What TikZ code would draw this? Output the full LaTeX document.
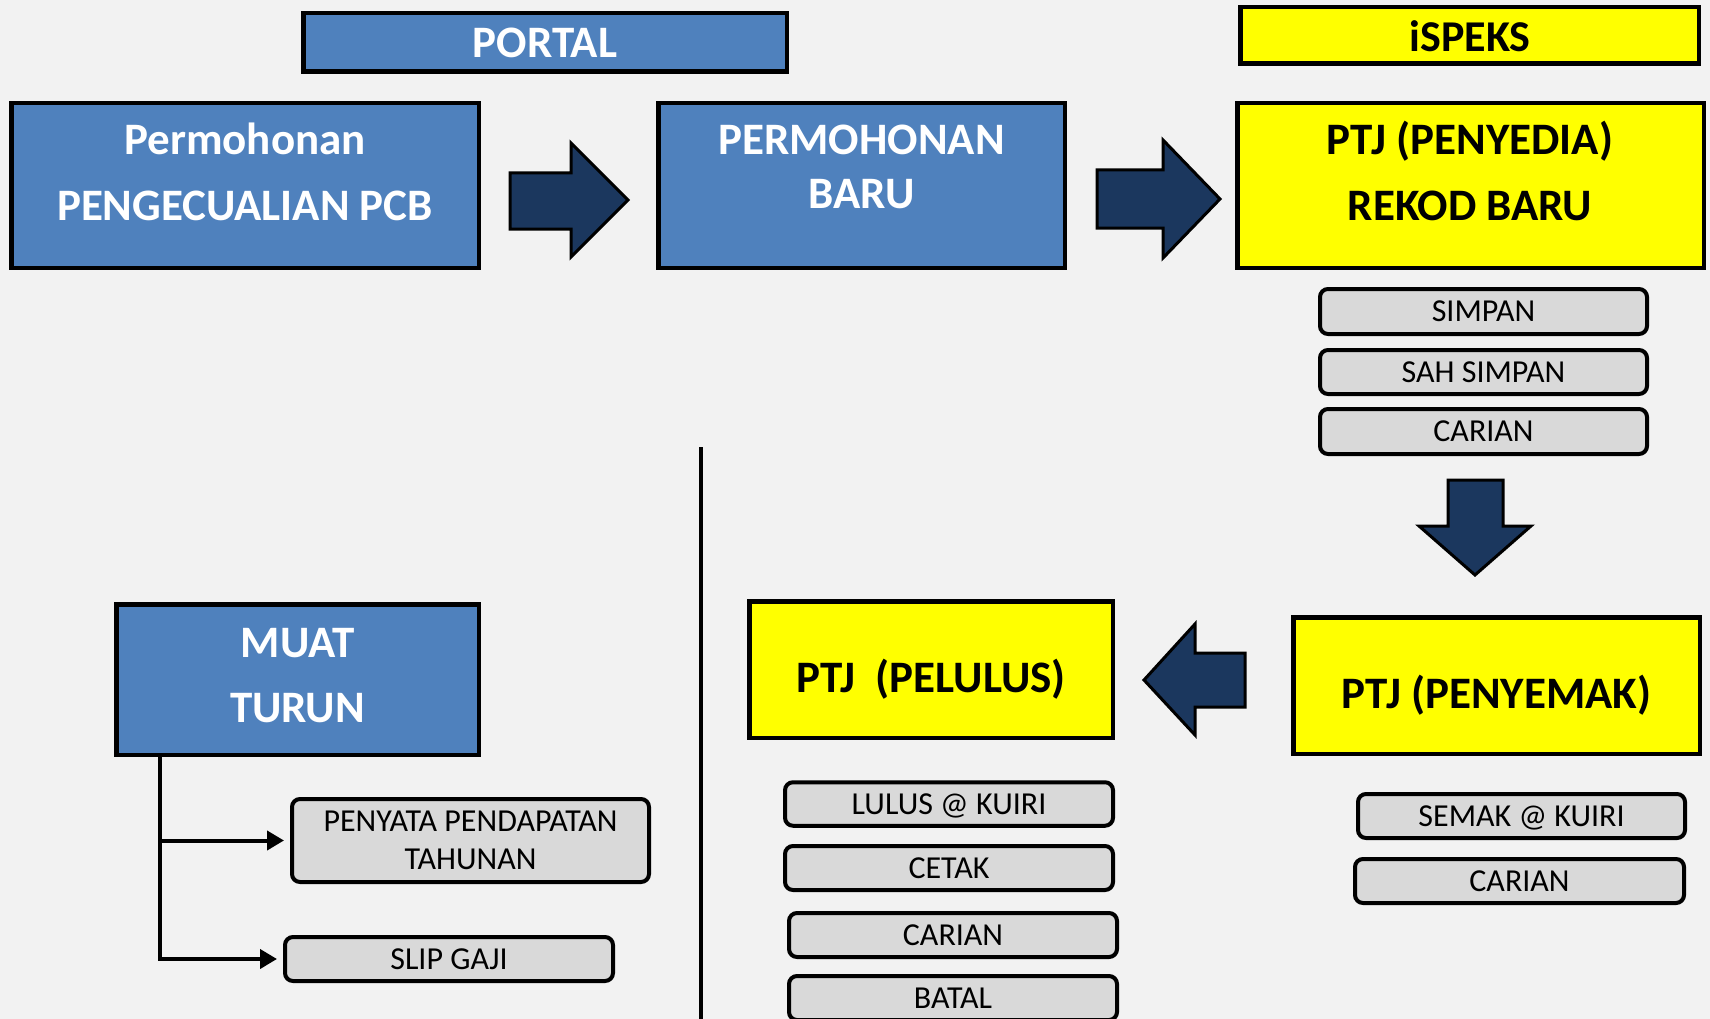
\documentclass[tikz,border=0pt]{standalone}
\usepackage{fontspec}
\setmainfont{Carlito}
\usetikzlibrary{arrows.meta}
\definecolor{bgc}{HTML}{F2F2F2}
\definecolor{pblue}{HTML}{4F81BD}
\definecolor{pyellow}{HTML}{FFFF00}
\definecolor{pgray}{HTML}{D9D9D9}
\definecolor{navy}{HTML}{1B375E}
\begin{document}
\begin{tikzpicture}[x=1pt,y=-1pt,
  bluebox/.style={draw=black, line width=4.5pt, fill=pblue, inner sep=0pt},
  yelbox/.style={draw=black, line width=4.5pt, fill=pyellow, inner sep=0pt},
  btnbox/.style={draw=black, line width=4pt, fill=pgray, rounded corners=8pt, inner sep=0pt,
    font=\fontsize{32}{37.5}\selectfont, text height=20pt, text depth=0pt},
  btnbox2/.style={draw=black, line width=4pt, fill=pgray, rounded corners=8pt, inner sep=0pt,
    font=\fontsize{32}{37.5}\selectfont, align=center},
  wt/.style={text=white, font=\bfseries\fontsize{45}{54}\selectfont, anchor=base, inner sep=0pt},
  bt/.style={text=black, font=\bfseries\fontsize{45}{54}\selectfont, anchor=base, inner sep=0pt},
  blockarrow/.style={fill=navy, draw=black, line width=3pt, line join=miter},
  conn/.style={draw=black, line width=4pt, -{Triangle[length=17pt,width=19pt]}},
]
\fill[bgc] (0,0) rectangle (1710,1019);
\useasboundingbox (0,0) rectangle (1710,1019);
\clip (0,0) rectangle (1710,1019);

% header boxes
\node[bluebox, minimum width=483.5pt, minimum height=58.5pt] (portal) at (545,42.5) {};
\node[wt] (portalT) at (545,57.5) {PORTAL};
\node[yelbox, minimum width=458.5pt, minimum height=56.5pt] (ispeks) at (1469.5,35.5) {};
\node[bt, font=\bfseries\fontsize{44}{52}\selectfont] (ispeksT) at (1470,52) {iSPEKS};

% top row
\node[bluebox, minimum width=467.5pt, minimum height=164.5pt] (perm) at (245,185.5) {};
\node[wt] (permT1) at (245,155) {Permohonan};
\node[wt] (permT2) at (245,220) {PENGECUALIAN PCB};

\node[bluebox, minimum width=406.5pt, minimum height=164.5pt] (baru) at (861.5,185.5) {};
\node[wt] (baruT1) at (861.5,154.5) {PERMOHONAN};
\node[wt] (baruT2) at (861.5,208) {BARU};

\node[yelbox, minimum width=466.5pt, minimum height=164.5pt] (penyedia) at (1470.5,185.5) {};
\node[bt] (penyediaT1) at (1470,155) {PTJ (PENYEDIA)};
\node[bt] (penyediaT2) at (1470,220) {REKOD BARU};

% block arrows
\draw[blockarrow] (510,173) -- (571,173) -- (571,143) -- (628,200) -- (571,257) -- (571,229) -- (510,229) -- cycle;
\draw[blockarrow] (1097,170) -- (1163,170) -- (1163,140) -- (1220,199) -- (1163,258) -- (1163,228) -- (1097,228) -- cycle;
\draw[blockarrow] (1448,480) -- (1503,480) -- (1503,526) -- (1531,526) -- (1475,575) -- (1419,526) -- (1448,526) -- cycle;
\draw[blockarrow] (1245,653) -- (1195,653) -- (1195,624) -- (1144,680) -- (1195,735) -- (1195,707) -- (1245,707) -- cycle;

% penyedia buttons
\node[btnbox, minimum width=327pt, minimum height=45pt] (simpan) at (1483.5,311.5) {SIMPAN};
\node[btnbox, minimum width=327pt, minimum height=44pt] (sahsimpan) at (1483.5,372) {SAH SIMPAN};
\node[btnbox, minimum width=327pt, minimum height=45pt] (carianA) at (1483.5,431.5) {CARIAN};

% divider
\draw[line width=3.5pt] (701,447) coordinate (divtop) -- (701,1019) coordinate (divbot);

% penyemak
\node[yelbox, minimum width=406.5pt, minimum height=136.5pt] (penyemak) at (1496.5,685.5) {};
\node[bt] (penyemakT) at (1496.5,708) {PTJ (PENYEMAK)};
\node[btnbox, minimum width=327pt, minimum height=44pt] (semak) at (1521.5,816) {SEMAK @ KUIRI};
\node[btnbox, minimum width=329pt, minimum height=44pt] (carianC) at (1519.5,881) {CARIAN};

% pelulus
\node[yelbox, minimum width=363.5pt, minimum height=136.5pt] (pelulus) at (931,669.5) {};
\node[bt] (pelulusT) at (931,692) {PTJ~~(PELULUS)};
\node[btnbox, minimum width=328pt, minimum height=43.5pt] (lulus) at (949,804) {LULUS @ KUIRI};
\node[btnbox, minimum width=328pt, minimum height=44pt] (cetak) at (949,868) {CETAK};
\node[btnbox, minimum width=328pt, minimum height=44pt] (carianB) at (953,935) {CARIAN};
\node[btnbox, minimum width=328pt, minimum height=44pt] (batal) at (953,998) {BATAL};

% muat turun
\node[bluebox, minimum width=362.5pt, minimum height=150.5pt] (muat) at (297.5,679.5) {};
\node[wt] (muatT1) at (297.5,657) {MUAT};
\node[wt] (muatT2) at (297.5,722.5) {TURUN};
\node[btnbox2, minimum width=357pt, minimum height=83pt] (penyata) at (470.5,840.5) {PENYATA PENDAPATAN\\TAHUNAN};
\node[btnbox, minimum width=328pt, minimum height=44pt] (slip) at (449,959) {SLIP GAJI};

\coordinate (j) at (160,959);
\draw[conn] (muat.south -| j) -- (j) -- ([xshift=-6pt]slip.west);
\draw[conn] (j |- penyata.west) -- ([xshift=-6pt]penyata.west);
\end{tikzpicture}
\end{document}
